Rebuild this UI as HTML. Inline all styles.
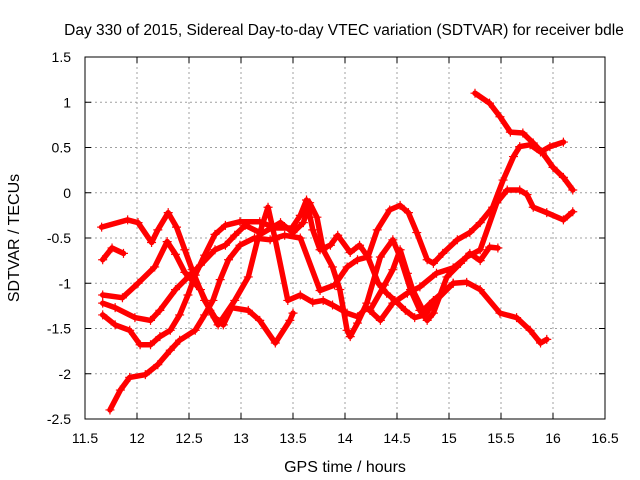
<!DOCTYPE html>
<html><head><meta charset="utf-8"><style>
body{margin:0;background:#fff}
svg{display:block;font-family:"Liberation Sans",sans-serif}
</style></head><body>
<svg id="chart" width="640" height="480">
<rect width="640" height="480" fill="#fff"/>
<text x="344" y="35" font-size="15.5" text-anchor="middle">Day 330 of 2015, Sidereal Day-to-day VTEC variation (SDTVAR) for receiver bdle</text>
<g id="grid"></g>
<g id="axes"></g>
<g id="series"></g>
<text x="345" y="472" font-size="16" text-anchor="middle">GPS time / hours</text>
<text transform="translate(19,238) rotate(-90)" font-size="16" text-anchor="middle">SDTVAR / TECUs</text>
</svg>
<script>
const xTicks=[11.5,12,12.5,13,13.5,14,14.5,15,15.5,16,16.5];
const yTicks=[1.5,1,0.5,0,-0.5,-1,-1.5,-2,-2.5];
const s1x=[11.66,11.91,12.01,12.14,12.20,12.30,12.38,12.46,12.53,12.65,12.75,12.83,12.91,13.07,13.18,13.33,13.47,13.50];
const s1y=[-0.38,-0.30,-0.33,-0.55,-0.41,-0.22,-0.38,-0.63,-0.85,-1.19,-1.38,-1.46,-1.27,-1.30,-1.41,-1.66,-1.41,-1.33];
const s2x=[11.67,11.76,11.87];
const s2y=[-0.74,-0.61,-0.67];
const s3x=[11.67,11.86,12.01,12.17,12.29,12.37,12.46,12.61,12.70,12.78,12.94,13.07,13.16,13.26,13.33,13.45,13.57,13.69,13.79,13.88,14.02,14.12,14.21,14.34,14.46,14.60,14.72,14.88,15.04,15.17,15.30,15.46,15.56,15.68,15.75,15.81,15.94,16.10,16.19];
const s3y=[-1.13,-1.16,-1.00,-0.82,-0.54,-0.68,-0.88,-1.07,-1.30,-1.46,-1.19,-0.93,-0.52,-0.16,-0.52,-1.19,-1.13,-1.21,-1.19,-1.24,-1.33,-1.37,-1.27,-1.41,-1.22,-1.11,-1.04,-0.89,-0.83,-0.71,-0.63,-0.11,0.03,0.03,-0.02,-0.16,-0.22,-0.30,-0.21];
const s4x=[11.67,11.79,11.98,12.13,12.22,12.37,12.51,12.61,12.75,12.85,12.94,13.04,13.20,13.38,13.50,13.60,13.66,13.73,13.79,13.88,13.95,14.02,14.05,14.12,14.21,14.34,14.46,14.53,14.63,14.72,14.79,14.85,14.98,15.11,15.20,15.30,15.39,15.47];
const s4y=[-1.22,-1.27,-1.38,-1.41,-1.30,-1.07,-0.91,-0.80,-0.63,-0.58,-0.47,-0.36,-0.45,-0.33,-0.44,-0.33,-0.11,-0.27,-0.63,-0.82,-1.07,-1.52,-1.59,-1.44,-1.22,-0.71,-0.52,-0.71,-1.07,-1.30,-1.41,-1.33,-0.93,-0.78,-0.67,-0.75,-0.60,-0.61];
const s5x=[11.67,11.79,11.93,12.03,12.13,12.22,12.32,12.41,12.49,12.56,12.65,12.75,12.85,12.99,13.18,13.33,13.49,13.57,13.63,13.69,13.76,13.86,13.93,14.05,14.14,14.22,14.32,14.40,14.48,14.58,14.67,14.77,14.85,15.04,15.17,15.30,15.49,15.65,15.78,15.88,15.94];
const s5y=[-1.35,-1.46,-1.52,-1.68,-1.68,-1.59,-1.52,-1.35,-1.13,-0.91,-0.69,-0.46,-0.36,-0.32,-0.32,-0.39,-0.39,-0.25,-0.08,-0.41,-0.63,-0.58,-0.47,-0.66,-0.58,-0.71,-1.00,-1.11,-1.19,-1.30,-1.38,-1.35,-1.22,-1.00,-0.99,-1.07,-1.33,-1.38,-1.52,-1.66,-1.62];
const s6x=[11.74,11.84,11.93,12.08,12.20,12.32,12.41,12.56,12.65,12.73,12.80,12.88,12.99,13.13,13.28,13.42,13.57,13.76,13.90,14.02,14.12,14.22,14.31,14.43,14.53,14.61,14.69,14.79,14.85,14.94,15.08,15.20,15.30,15.42,15.52,15.62,15.68,15.78,15.88,15.97,16.10];
const s6y=[-2.40,-2.18,-2.04,-2.01,-1.90,-1.74,-1.63,-1.52,-1.35,-1.19,-0.96,-0.74,-0.58,-0.50,-0.52,-0.47,-0.50,-1.08,-1.02,-0.82,-0.74,-0.71,-0.41,-0.19,-0.14,-0.22,-0.44,-0.74,-0.78,-0.67,-0.52,-0.44,-0.33,-0.16,0.14,0.40,0.51,0.53,0.45,0.51,0.56];
const s7x=[15.25,15.39,15.49,15.59,15.71,15.81,15.90,16.00,16.10,16.19];
const s7y=[1.10,0.99,0.84,0.67,0.66,0.55,0.44,0.28,0.17,0.03];
const s8x=[14.24,14.38,14.46,14.53,14.60,14.65,14.75,14.85,15.04];
const s8y=[-1.30,-1.02,-0.85,-0.63,-0.89,-1.07,-1.30,-1.19,-1.00];

const L=85,R=605,T=57,B=419,xmin=11.5,xmax=16.5,ymin=-2.5,ymax=1.5;
const sx=v=>L+(v-xmin)/(xmax-xmin)*(R-L);
const sy=v=>B-(v-ymin)/(ymax-ymin)*(B-T);
const NS='http://www.w3.org/2000/svg';
function mk(tag,attrs,parent){const e=document.createElementNS(NS,tag);for(const k in attrs)e.setAttribute(k,attrs[k]);parent.appendChild(e);return e;}
const grid=document.getElementById('grid'),axes=document.getElementById('axes'),ser=document.getElementById('series');
xTicks.forEach(t=>{
  const X=sx(t);
  if(t>xmin&&t<xmax){const g=mk('line',{x1:X,x2:X,y1:T,y2:B,stroke:'#a0a0a0','stroke-dasharray':'2,3'},grid);
  
  }
  mk('line',{x1:X,x2:X,y1:B,y2:B-6,stroke:'#000'},axes);
  mk('line',{x1:X,x2:X,y1:T,y2:T+6,stroke:'#000'},axes);
  const tx=mk('text',{x:X,y:B+24,'font-size':14,'text-anchor':'middle'},axes);
  tx.textContent=String(t);
  
  
});
yTicks.forEach(t=>{
  const Y=sy(t);
  if(t>ymin&&t<ymax){const g=mk('line',{x1:L,x2:R,y1:Y,y2:Y,stroke:'#a0a0a0','stroke-dasharray':'2,3'},grid);
  
  }
  mk('line',{x1:L,x2:L+6,y1:Y,y2:Y,stroke:'#000'},axes);
  mk('line',{x1:R,x2:R-6,y1:Y,y2:Y,stroke:'#000'},axes);
  const tx=mk('text',{x:L-14,y:Y+5,'font-size':14,'text-anchor':'end'},axes);
  tx.textContent=String(t);
  
  
});
mk('rect',{x:L,y:T,width:R-L,height:B-T,fill:'none',stroke:'#000'},axes);
const all=[[s1x,s1y],[s2x,s2y],[s3x,s3y],[s4x,s4y],[s5x,s5y],[s6x,s6y],[s7x,s7y],[s8x,s8y]];
all.forEach((s,i)=>{
  const pts=s[0].map((x,j)=>sx(x).toFixed(1)+','+sy(s[1][j]).toFixed(1)).join(' ');
  const pl=mk('polyline',{points:pts,fill:'none',stroke:'#ff0000','stroke-width':5.5,'stroke-linejoin':'round','stroke-linecap':'round'},ser);
  
  
  s[0].forEach((x,j)=>{
    const X=sx(x),Y=sy(s[1][j]);
    const p=mk('path',{d:`M${X-4.5},${Y}H${X+4.5}M${X},${Y-4.5}V${Y+4.5}`,stroke:'#ff0000','stroke-width':1.2},ser);
    
    
  });
});
</script>
</body></html>
